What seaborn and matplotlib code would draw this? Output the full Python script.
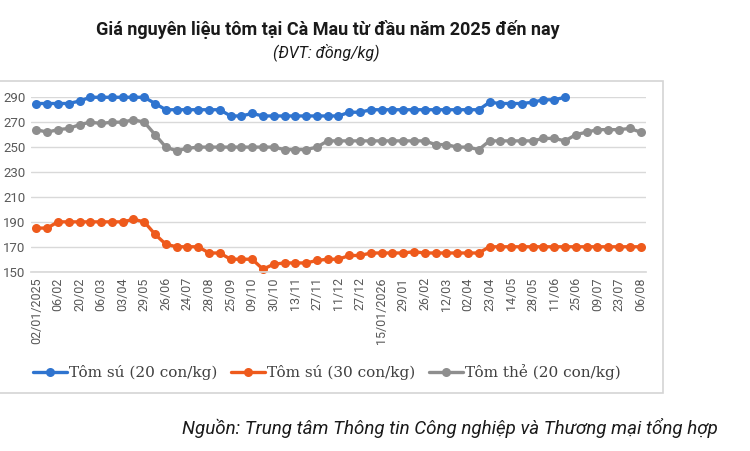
import numpy as np
import matplotlib
matplotlib.use("Agg")
import matplotlib.pyplot as plt
import seaborn as sns
from matplotlib.patches import Rectangle

# tick labels (one label every second observation)
tick_labels = ["02/01/2025", "06/02", "20/02", "06/03", "03/04", "29/05", "26/06",
               "24/07", "28/08", "25/09", "09/10", "30/10", "13/11", "27/11",
               "11/12", "27/12", "15/01/2026", "29/01", "26/02", "12/03", "02/04",
               "23/04", "14/05", "28/05", "11/06", "25/06", "09/07", "23/07", "06/08"]

# Tôm sú (20 con/kg) - ends at index 49
su20 = [285, 285, 285, 285, 287, 290, 290, 290, 290, 290, 290, 285, 280, 280, 280,
        280, 280, 280, 275, 275, 277, 275, 275, 275, 275, 275, 275, 275, 275, 278,
        278, 280, 280, 280, 280, 280, 280, 280, 280, 280, 280, 280, 286, 285, 285,
        285, 286, 288, 288, 290]

# Tôm sú (30 con/kg)
su30 = [185, 185, 190, 190, 190, 190, 190, 190, 190, 192, 190, 180, 172, 170, 170,
        170, 165, 165, 160, 160, 160, 152, 156, 157, 157, 157, 159, 160, 160, 163,
        163, 165, 165, 165, 165, 166, 165, 165, 165, 165, 165, 165, 170, 170, 170,
        170, 170, 170, 170, 170, 170, 170, 170, 170, 170, 170, 170]

# Tôm thẻ (20 con/kg)
the20 = [264, 262, 264, 265, 268, 270, 269, 270, 270, 272, 270, 260, 250, 247, 249,
         250, 250, 250, 250, 250, 250, 250, 250, 248, 248, 248, 250, 255, 255, 255,
         255, 255, 255, 255, 255, 255, 255, 252, 252, 250, 250, 248, 255, 255, 255,
         255, 255, 257, 257, 255, 260, 262, 264, 264, 264, 265, 262]

series_names = ["Tôm sú (20 con/kg)", "Tôm sú (30 con/kg)", "Tôm thẻ (20 con/kg)"]
colors = ["#2F74CF", "#EE5A1C", "#8E8E8E"]

sns.set_theme(style="white")
plt.rcParams["font.family"] = ["Roboto", "DejaVu Sans"]

fig = plt.figure(figsize=(7.5, 4.51), dpi=100)
ax = fig.add_axes([0.0413, 0.3976, 0.82, 0.3867])

# outer chart frame
fig.patches.append(Rectangle((-0.01, 0.1286), 0.894, 0.6918, transform=fig.transFigure,
                             fill=False, edgecolor="#d4d4d4", linewidth=1.2))

for vals, name, c in zip([su20, su30, the20], series_names, colors):
    x = np.arange(len(vals))
    sns.lineplot(x=x, y=vals, ax=ax, color=c, marker="o", markersize=6.5,
                 markeredgewidth=0, linewidth=2.4, label=name, clip_on=False)

n = len(su30)
ax.set_xlim(-0.5, n - 0.5)
ax.set_ylim(150, 290)
ax.set_yticks(range(150, 291, 20))
ax.set_xticks(range(0, n, 2))
ax.set_xticklabels(tick_labels, rotation=90, fontsize=9, color="#595959")
ax.tick_params(axis="y", labelsize=9.5, labelcolor="#595959", pad=4, length=0)
ax.tick_params(axis="x", pad=4, length=0)
ax.yaxis.grid(True, color="#d9d9d9", linewidth=1)
ax.set_axisbelow(True)
for s in ["top", "right", "left"]:
    ax.spines[s].set_visible(False)
ax.spines["bottom"].set_color("#d9d9d9")
ax.set_xlabel("")
ax.set_ylabel("")

leg = ax.legend(loc="center", bbox_to_anchor=(0.436, 0.175), bbox_transform=fig.transFigure,
                ncol=3, frameon=False, handlelength=2.2, columnspacing=0.9,
                handletextpad=0.15, prop={"family": "DejaVu Serif", "size": 11})
for t in leg.get_texts():
    t.set_color("#404040")

fig.text(0.437, 0.935, "Giá nguyên liệu tôm tại Cà Mau từ đầu năm 2025 đến nay",
         ha="center", va="center", fontsize=13, fontweight="bold", color="#1a1a1a")
fig.text(0.435, 0.885, "(ĐVT: đồng/kg)", ha="center", va="center", fontsize=11.5,
         style="italic", color="#1a1a1a")
fig.text(0.957, 0.051, "Nguồn: Trung tâm Thông tin Công nghiệp và Thương mại tổng hợp",
         ha="right", va="center", fontsize=13.5, style="italic", color="#1a1a1a")

fig.savefig("out.png", dpi=100)
